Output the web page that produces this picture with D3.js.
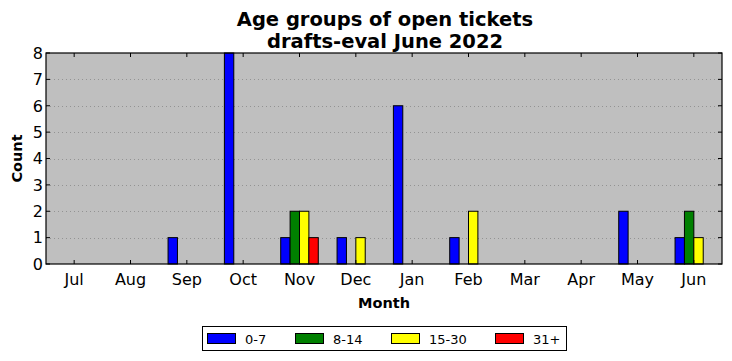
<!DOCTYPE html>
<html><head><meta charset="utf-8">
<script src="https://cdn.jsdelivr.net/npm/d3@7"></script>
<style>body{margin:0;background:#fff}svg{display:block}text{font-family:"DejaVu Sans",sans-serif}</style>
</head><body><svg id="c" width="732" height="361"></svg>
<script>
const months = ["Jul","Aug","Sep","Oct","Nov","Dec","Jan","Feb","Mar","Apr","May","Jun"];
const seriesNames = ["0-7","8-14","15-30","31+"];
const seriesColors = ["#0000ff","#008000","#ffff00","#ff0000"];
const s0_7   = [0,0,1,8,1,1,6,1,0,0,2,1];
const s8_14  = [0,0,0,0,2,0,0,0,0,0,0,2];
const s15_30 = [0,0,0,0,2,1,0,2,0,0,0,1];
const s31p   = [0,0,0,0,1,0,0,0,0,0,0,0];
const yTicks = [0,1,2,3,4,5,6,7,8];
const series = [s0_7, s8_14, s15_30, s31p];

const svg = d3.select("#c");
const L = 46, R = 722, T = 53, B = 264;
const x = d3.scaleBand().domain(months).range([L, R]);
const y = d3.scaleLinear().domain([0, 8]).range([B, T]);
const bw = x.bandwidth() / 6;

svg.append("rect").attr("x", L).attr("y", T).attr("width", R - L).attr("height", B - T).attr("fill", "#bfbfbf");

svg.append("g").selectAll("line").data(yTicks.slice(1, -1)).join("line")
  .attr("x1", L).attr("x2", R).attr("y1", d => Math.round(y(d)) + 0.5).attr("y2", d => Math.round(y(d)) + 0.5)
  .attr("stroke", "#888").attr("stroke-width", 0.8).attr("stroke-dasharray", "1,3");

series.forEach((vals, si) => {
  svg.append("g").selectAll("rect").data(vals).join("rect")
    .attr("x", (d, i) => x(months[i]) + x.bandwidth() / 2 + (si - 2) * bw)
    .attr("width", bw)
    .attr("y", d => y(d))
    .attr("height", d => y(0) - y(d))
    .attr("fill", seriesColors[si]).attr("stroke", "#000").attr("stroke-width", 1);
});

svg.append("rect").attr("x", L).attr("y", T).attr("width", R - L).attr("height", B - T)
  .attr("fill", "none").attr("stroke", "#000").attr("stroke-width", 1.2);

const tk = svg.append("g").attr("stroke", "#000").attr("stroke-width", 1);
months.forEach(m => {
  const cx = x(m) + x.bandwidth() / 2;
  tk.append("line").attr("x1", cx).attr("x2", cx).attr("y1", B).attr("y2", B - 4);
  tk.append("line").attr("x1", cx).attr("x2", cx).attr("y1", T).attr("y2", T + 4);
});
yTicks.forEach(v => {
  const yy = y(v);
  tk.append("line").attr("x1", L).attr("x2", L + 4).attr("y1", yy).attr("y2", yy);
  tk.append("line").attr("x1", R).attr("x2", R - 4).attr("y1", yy).attr("y2", yy);
});

svg.append("g").selectAll("text").data(months).join("text")
  .attr("x", d => x(d) + x.bandwidth() / 2).attr("y", B + 21)
  .attr("text-anchor", "middle").attr("font-size", 16).text(d => d);
svg.append("g").selectAll("text").data(yTicks).join("text")
  .attr("x", L - 3).attr("y", d => y(d) + 5.8)
  .attr("text-anchor", "end").attr("font-size", 16).text(d => d);

svg.append("text").attr("x", (L + R) / 2).attr("y", 308).attr("text-anchor", "middle")
  .attr("font-size", 14.5).attr("font-weight", "bold").text("Month");
svg.append("text").attr("transform", `translate(22,${(T + B) / 2}) rotate(-90)`).attr("text-anchor", "middle")
  .attr("font-size", 14.5).attr("font-weight", "bold").text("Count");

svg.append("text").attr("x", (L + R) / 2 + 1).attr("y", 26).attr("text-anchor", "middle")
  .attr("font-size", 19.5).attr("font-weight", "bold").text("Age groups of open tickets");
svg.append("text").attr("x", (L + R) / 2 + 1).attr("y", 48).attr("text-anchor", "middle")
  .attr("font-size", 19.5).attr("font-weight", "bold").text("drafts-eval June 2022");

const lg = svg.append("g");
lg.append("rect").attr("x", 202.5).attr("y", 326.5).attr("width", 364).attr("height", 24)
  .attr("fill", "#fff").attr("stroke", "#000").attr("stroke-width", 1);
const lx = [207, 295, 391, 495];
seriesNames.forEach((n, i) => {
  lg.append("rect").attr("x", lx[i] + 0.5).attr("y", 333.5).attr("width", 28).attr("height", 10)
    .attr("fill", seriesColors[i]).attr("stroke", "#000").attr("stroke-width", 1);
  lg.append("text").attr("x", lx[i] + 38).attr("y", 343.5).attr("font-size", 13).text(n);
});
</script></body></html>
